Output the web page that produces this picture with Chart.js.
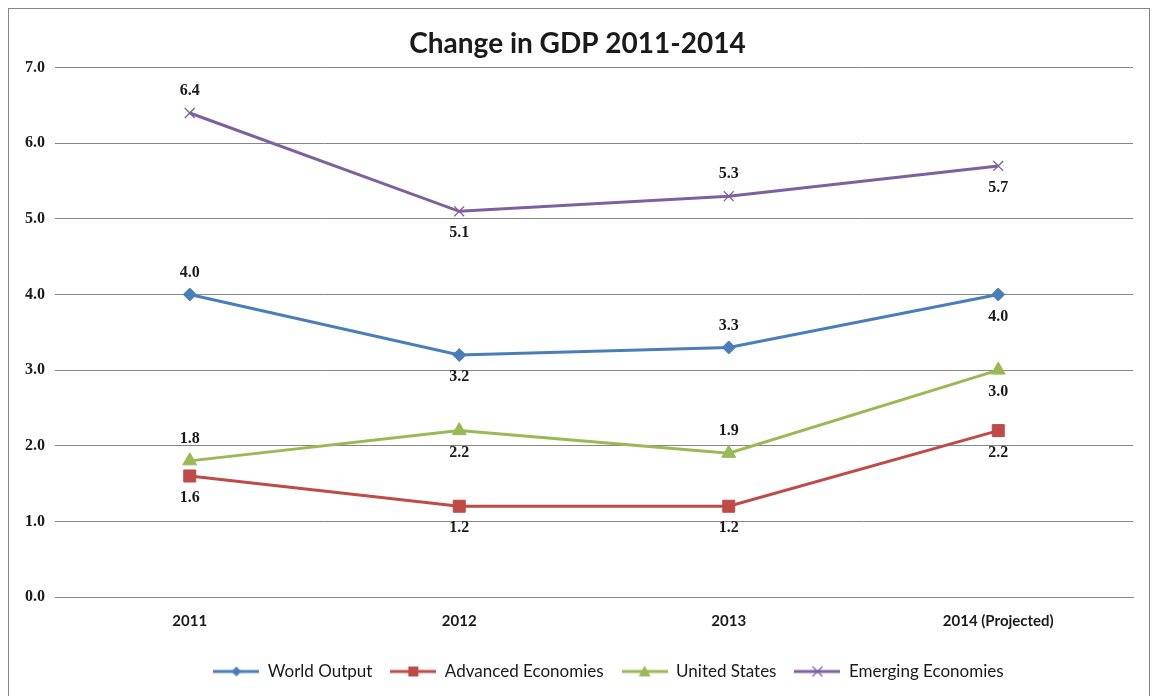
<!DOCTYPE html>
<html>
<head>
<meta charset="utf-8">
<title>Change in GDP 2011-2014</title>
<script src="https://cdn.jsdelivr.net/npm/chart.js@4/dist/chart.umd.min.js"></script>
<style>
  html, body { margin: 0; padding: 0; background: #fff; }
  #wrap { width: 1155px; height: 696px; }
</style>
</head>
<body>
<div id="wrap"><canvas id="gdpChart" width="1155" height="696"></canvas></div>
<script>
// === Data ===
const years = ['2011', '2012', '2013', '2014 (Projected)'];
const worldOutput = [4.0, 3.2, 3.3, 4.0];
const advancedEconomies = [1.6, 1.2, 1.2, 2.2];
const unitedStates = [1.8, 2.2, 1.9, 3.0];
const emergingEconomies = [6.4, 5.1, 5.3, 5.7];
const yTicks = [0, 1, 2, 3, 4, 5, 6, 7];

const GRID = '#868686';
const TEXT = '#1a1a1a';

// === Legend icons: short line with the series marker in the middle ===
function legendIcon(color, shape) {
  const c = document.createElement('canvas');
  c.width = 46; c.height = 16;
  const ctx = c.getContext('2d');
  const m = 23;
  ctx.strokeStyle = color;
  ctx.fillStyle = color;
  ctx.lineWidth = 3;
  ctx.beginPath(); ctx.moveTo(0, 8); ctx.lineTo(46, 8); ctx.stroke();
  ctx.beginPath();
  if (shape === 'diamond') {
    ctx.moveTo(m, 3); ctx.lineTo(m + 5, 8); ctx.lineTo(m, 13); ctx.lineTo(m - 5, 8); ctx.closePath(); ctx.fill();
  } else if (shape === 'square') {
    ctx.fillRect(m - 5, 3, 10, 10);
  } else if (shape === 'triangle') {
    ctx.moveTo(m, 2); ctx.lineTo(m + 6, 13); ctx.lineTo(m - 6, 13); ctx.closePath(); ctx.fill();
  } else {
    ctx.lineWidth = 1.2;
    ctx.moveTo(m - 5, 3); ctx.lineTo(m + 5, 13); ctx.moveTo(m + 5, 3); ctx.lineTo(m - 5, 13); ctx.stroke();
  }
  return c;
}

// === Series setup ===
function series(label, data, color, pointStyle, radius, icon, labelSide) {
  return {
    label, data,
    borderColor: color,
    backgroundColor: color,
    borderWidth: 3,
    pointStyle,
    pointRadius: radius,
    pointHoverRadius: radius,
    pointBorderWidth: pointStyle === 'crossRot' ? 1.3 : 1,
    pointBorderColor: color,
    pointBackgroundColor: color,
    tension: 0,
    legendIcon: icon,
    labelSide
  };
}

const datasets = [
  series('World Output', worldOutput, '#4a7ebb', 'rectRot', 6.5, legendIcon('#4a7ebb', 'diamond'), ['above', 'below', 'above', 'below']),
  series('Advanced Economies', advancedEconomies, '#be4b48', 'rect', 8.5, legendIcon('#be4b48', 'square'), ['below', 'below', 'below', 'below']),
  series('United States', unitedStates, '#98b954', 'triangle', 8, legendIcon('#98b954', 'triangle'), ['above', 'below', 'above', 'below']),
  series('Emerging Economies', emergingEconomies, '#7d60a0', 'crossRot', 7, legendIcon('#7d60a0', 'cross'), ['above', 'below', 'above', 'below'])
];

// === Plugins: chart frame, legend nudge and value labels ===
const frame = {
  id: 'frame',
  beforeDraw(chart) {
    const ctx = chart.ctx;
    ctx.save();
    ctx.fillStyle = '#fff';
    ctx.fillRect(0, 0, chart.width, chart.height);
    ctx.strokeStyle = GRID;
    ctx.lineWidth = 1;
    ctx.strokeRect(8.5, 8.5, 1141, 720);
    ctx.restore();
  }
};

// legend row sits a little right of centre
const legendNudge = {
  id: 'legendNudge',
  afterLayout(chart) {
    chart.legend.left += 31;
    chart.legend.right += 31;
  }
};

const valueLabels = {
  id: 'valueLabels',
  afterDatasetsDraw(chart) {
    const ctx = chart.ctx;
    ctx.save();
    ctx.font = 'bold 16px "Liberation Serif"';
    ctx.fillStyle = TEXT;
    ctx.textAlign = 'center';
    ctx.textBaseline = 'middle';
    chart.data.datasets.forEach((ds, i) => {
      chart.getDatasetMeta(i).data.forEach((pt, j) => {
        const dy = ds.labelSide[j] === 'above' ? -22 : 22;
        ctx.fillText(ds.data[j].toFixed(1), pt.x, pt.y + dy);
      });
    });
    ctx.restore();
  }
};

new Chart(document.getElementById('gdpChart'), {
  type: 'line',
  data: { labels: years, datasets },
  options: {
    responsive: false,
    animation: false,
    events: [],
    layout: { padding: { left: 22, right: 22, top: 0, bottom: 6 } },
    plugins: {
      title: {
        display: true,
        text: 'Change in GDP 2011-2014',
        color: TEXT,
        font: { family: 'Lato', size: 28, weight: 'bold' },
        padding: { top: 27, bottom: 7 }
      },
      legend: {
        position: 'bottom',
        labels: {
          usePointStyle: true,
          pointStyleWidth: 46,
          padding: 18,
          color: TEXT,
          font: { family: 'Lato', size: 17 },
          generateLabels(chart) {
            return chart.data.datasets.map((ds, i) => ({
              text: ds.label,
              pointStyle: ds.legendIcon,
              fillStyle: ds.borderColor,
              strokeStyle: ds.borderColor,
              lineWidth: 0,
              fontColor: TEXT,
              hidden: false,
              datasetIndex: i
            }));
          }
        }
      },
      tooltip: { enabled: false }
    },
    scales: {
      x: {
        offset: true,
        grid: { display: false, drawTicks: false, offset: true },
        border: { display: true, color: GRID, width: 1 },
        ticks: {
          color: TEXT,
          padding: 15,
          maxRotation: 0,
          font: { family: 'Lato', size: 15, weight: 'bold' }
        },
        afterFit(scale) { scale.height = 48; }
      },
      y: {
        min: 0,
        max: 7,
        afterBuildTicks(scale) { scale.ticks = yTicks.map(v => ({ value: v })); },
        grid: { color: GRID, lineWidth: 1, drawTicks: false },
        border: { display: false },
        ticks: {
          color: TEXT,
          padding: 10,
          font: { family: 'Liberation Serif', size: 16, weight: 'bold' },
          callback: v => Number(v).toFixed(1)
        },
        afterFit(scale) { scale.width = 33; }
      }
    }
  },
  plugins: [frame, legendNudge, valueLabels]
});
</script>
</body>
</html>
